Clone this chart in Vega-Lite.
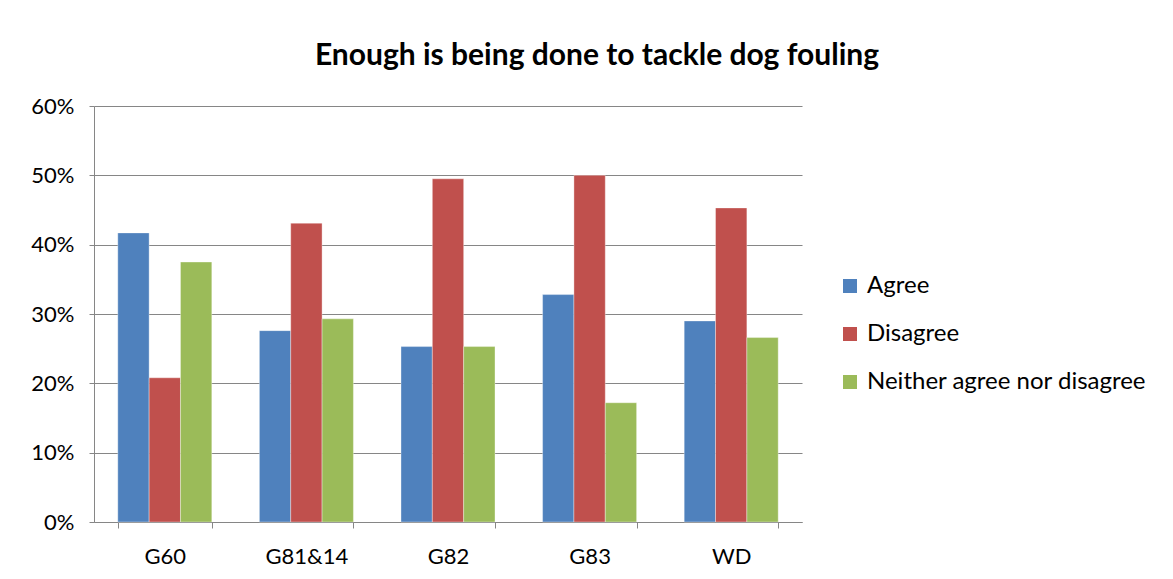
{
  "$schema": "https://vega.github.io/schema/vega-lite/v6.json",
  "width": 708,
  "height": 416,
  "autosize": {"type": "none"},
  "padding": {"left": 94, "top": 106, "right": 371, "bottom": 57},
  "background": "white",
  "title": {
    "text": "Enough is being done to tackle dog fouling",
    "font": "Lato",
    "fontSize": 30,
    "fontWeight": "bold",
    "color": "black",
    "anchor": "middle",
    "dx": 149,
    "offset": 24
  },
  "data": {
    "values": [
      {"area": "G60", "response": "Agree", "value": 0.417},
      {"area": "G60", "response": "Disagree", "value": 0.208},
      {"area": "G60", "response": "Neither agree nor disagree", "value": 0.375},
      {"area": "G81&14", "response": "Agree", "value": 0.276},
      {"area": "G81&14", "response": "Disagree", "value": 0.431},
      {"area": "G81&14", "response": "Neither agree nor disagree", "value": 0.293},
      {"area": "G82", "response": "Agree", "value": 0.253},
      {"area": "G82", "response": "Disagree", "value": 0.495},
      {"area": "G82", "response": "Neither agree nor disagree", "value": 0.253},
      {"area": "G83", "response": "Agree", "value": 0.328},
      {"area": "G83", "response": "Disagree", "value": 0.5},
      {"area": "G83", "response": "Neither agree nor disagree", "value": 0.172},
      {"area": "WD", "response": "Agree", "value": 0.29},
      {"area": "WD", "response": "Disagree", "value": 0.453},
      {"area": "WD", "response": "Neither agree nor disagree", "value": 0.266}
    ]
  },
  "mark": {"type": "bar", "stroke": "white", "strokeWidth": 0.6, "strokeOpacity": 0.6},
  "encoding": {
    "x": {
      "field": "area",
      "type": "nominal",
      "sort": null,
      "scale": {"paddingInner": 0.336, "paddingOuter": 0.168},
      "axis": {
        "title": null,
        "labelAngle": 0,
        "labelFont": "Lato",
        "labelFontSize": 22,
        "labelColor": "black",
        "labelPadding": 18,
        "tickBand": "extent",
        "tickSize": 6,
        "tickColor": "#868686",
        "domainColor": "#868686",
        "grid": false
      }
    },
    "xOffset": {"field": "response", "type": "nominal", "sort": null, "scale": {"paddingInner": 0, "paddingOuter": 0}},
    "y": {
      "field": "value",
      "type": "quantitative",
      "scale": {"domain": [0, 0.6]},
      "axis": {
        "title": null,
        "format": ".0%",
        "values": [0, 0.1, 0.2, 0.3, 0.4, 0.5, 0.6],
        "labelFont": "Lato",
        "labelFontSize": 22,
        "labelColor": "black",
        "labelPadding": 15,
        "tickSize": 5,
        "tickColor": "#868686",
        "domainColor": "#868686",
        "gridColor": "#868686",
        "gridWidth": 1.2
      }
    },
    "color": {
      "field": "response",
      "type": "nominal",
      "sort": null,
      "scale": {
        "domain": ["Agree", "Disagree", "Neither agree nor disagree"],
        "range": ["#4F81BD", "#C0504D", "#9BBB59"]
      },
      "legend": {
        "title": null,
        "orient": "none",
        "legendX": 744,
        "legendY": 168,
        "symbolType": "square",
        "symbolSize": 196,
        "symbolStrokeWidth": 0,
        "labelFont": "Lato",
        "labelFontSize": 24,
        "labelColor": "black",
        "labelLimit": 400,
        "rowPadding": 24,
        "labelOffset": 5
      }
    }
  },
  "config": {
    "view": {"stroke": null}
  }
}
